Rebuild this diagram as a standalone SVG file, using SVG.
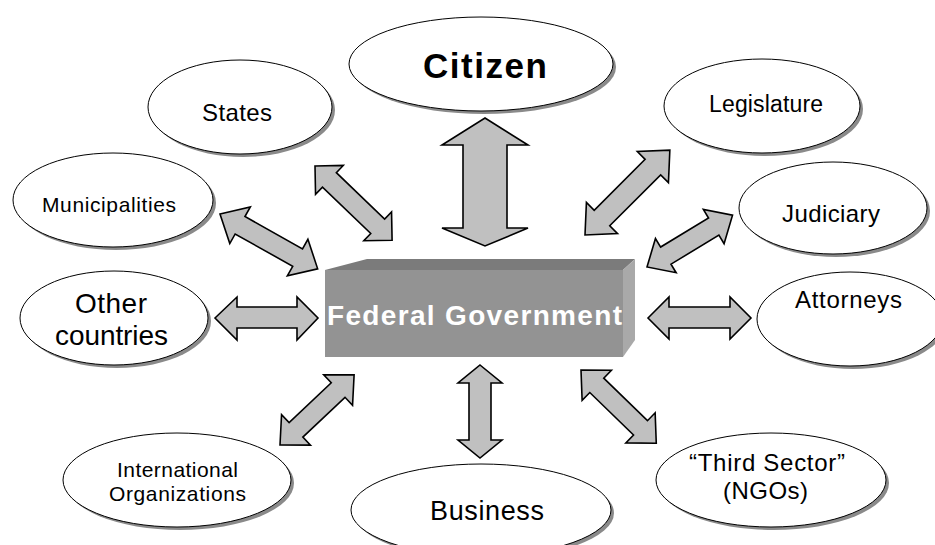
<svg xmlns="http://www.w3.org/2000/svg" width="935" height="545" viewBox="0 0 935 545">
<style>
.arrow{fill:#c0c0c0;stroke:#000;stroke-width:1.6;stroke-linejoin:miter}
.shadow{fill:#8a8a8a}
.oval{fill:#fff;stroke:#000;stroke-width:1}
.lbl{font-family:"Liberation Sans",Arial,sans-serif;fill:#000;text-anchor:start}
.big{font-family:"Liberation Sans",Arial,sans-serif;font-weight:bold}
</style>
<rect width="935" height="545" fill="#fff"/>
<g id="connectors">
<path class="arrow" d="M485,118 L528,145 L507,145 L507,228 L528,228 L485,246 L442,228 L463,228 L463,145 L442,145 Z"/>
<path class="arrow" d="M480,365 L502,383 L491,383 L491,440 L502,440 L480,458 L458,440 L469,440 L469,383 L458,383 Z"/>
<path class="arrow" d="M215,318 L237,297 L237,307 L297,307 L297,297 L318,318 L297,340 L297,328 L237,328 L237,340 Z"/>
<path class="arrow" d="M648,318 L669,297 L669,307 L730,307 L730,297 L751,318 L730,339 L730,328 L669,328 L669,339 Z"/>
<path class="arrow" transform="translate(315,166) rotate(43.9)" d="M0,0 L20,-20 L20,-10 L87,-10 L87,-20 L107,0 L87,20 L87,10 L20,10 L20,20 Z"/>
<path class="arrow" transform="translate(220,214) rotate(29.3)" d="M0,0 L23,-21 L23,-10 L89,-10 L89,-21 L112,0 L89,21 L89,10 L23,10 L23,21 Z"/>
<path class="arrow" transform="translate(585,235) rotate(-45)" d="M0,0 L24,-22 L24,-11 L96,-11 L96,-22 L120,0 L96,22 L96,11 L24,11 L24,22 Z"/>
<path class="arrow" transform="translate(647,267) rotate(-31.2)" d="M0,0 L22,-20 L22,-10 L78,-10 L78,-20 L100,0 L78,20 L78,10 L22,10 L22,20 Z"/>
<path class="arrow" transform="translate(280,445) rotate(-43.4)" d="M0,0 L22,-21 L22,-10 L80,-10 L80,-21 L102,0 L80,21 L80,10 L22,10 L22,21 Z"/>
<path class="arrow" transform="translate(581,370) rotate(44.2)" d="M0,0 L22,-21 L22,-10 L83,-10 L83,-21 L105,0 L83,21 L83,10 L22,10 L22,21 Z"/>
</g>
<g id="federal">
<polygon points="325,270 367,259 635,259 623,270" fill="#7b7b7b"/>
<polygon points="623,270 635,259 635,340 623,357" fill="#a9a9a9"/>
<rect x="325" y="270" width="298" height="87" fill="#939393"/>
<text class="big" x="327" y="325" font-size="28" fill="#fff" textLength="295" lengthAdjust="spacing">Federal Government</text>
</g>
<g id="citizen">
<ellipse class="shadow" cx="484" cy="67" rx="132" ry="47"/>
<ellipse class="oval" cx="481" cy="64" rx="132" ry="47"/>
<text class="big" x="423" y="78" font-size="35" fill="#000" textLength="124" lengthAdjust="spacing">Citizen</text>
</g>
<g id="states">
<ellipse class="shadow" cx="243" cy="110" rx="92" ry="47"/>
<ellipse class="oval" cx="240" cy="107" rx="92" ry="47"/>
<text class="lbl" x="202" y="121" font-size="24" textLength="70" lengthAdjust="spacing">States</text>
</g>
<g id="municipalities">
<ellipse class="shadow" cx="116" cy="203" rx="100" ry="47"/>
<ellipse class="oval" cx="113" cy="200" rx="100" ry="47"/>
<text class="lbl" x="42" y="212" font-size="21" textLength="134" lengthAdjust="spacing">Municipalities</text>
</g>
<g id="other-countries">
<ellipse class="shadow" cx="117" cy="321" rx="94" ry="47"/>
<ellipse class="oval" cx="114" cy="318" rx="94" ry="47"/>
<text class="lbl" x="75" y="313" font-size="28" textLength="72" lengthAdjust="spacing">Other</text>
<text class="lbl" x="55" y="345" font-size="28" textLength="113" lengthAdjust="spacing">countries</text>
</g>
<g id="international">
<ellipse class="shadow" cx="180" cy="483" rx="114" ry="47"/>
<ellipse class="oval" cx="177" cy="480" rx="114" ry="47"/>
<text class="lbl" x="117" y="477" font-size="21" textLength="121" lengthAdjust="spacing">International</text>
<text class="lbl" x="109" y="501" font-size="21" textLength="137" lengthAdjust="spacing">Organizations</text>
</g>
<g id="business">
<ellipse class="shadow" cx="484" cy="513" rx="130" ry="46"/>
<ellipse class="oval" cx="481" cy="510" rx="130" ry="46"/>
<text class="lbl" x="430" y="520" font-size="27" textLength="114" lengthAdjust="spacing">Business</text>
</g>
<g id="third-sector">
<ellipse class="shadow" cx="774" cy="483" rx="115" ry="47"/>
<ellipse class="oval" cx="771" cy="480" rx="115" ry="47"/>
<text class="lbl" x="689" y="471" font-size="24" textLength="156" lengthAdjust="spacing">“Third Sector”</text>
<text class="lbl" x="723" y="499" font-size="24" textLength="85" lengthAdjust="spacing">(NGOs)</text>
</g>
<g id="attorneys">
<ellipse class="shadow" cx="853" cy="322" rx="93" ry="47"/>
<ellipse class="oval" cx="850" cy="319" rx="93" ry="47"/>
<text class="lbl" x="795" y="308" font-size="24" textLength="107" lengthAdjust="spacing">Attorneys</text>
</g>
<g id="judiciary">
<ellipse class="shadow" cx="836" cy="211" rx="94" ry="46"/>
<ellipse class="oval" cx="833" cy="208" rx="94" ry="46"/>
<text class="lbl" x="782" y="222" font-size="24" textLength="98" lengthAdjust="spacing">Judiciary</text>
</g>
<g id="legislature">
<ellipse class="shadow" cx="765" cy="109" rx="98" ry="47"/>
<ellipse class="oval" cx="762" cy="106" rx="98" ry="47"/>
<text class="lbl" x="709" y="112" font-size="23" textLength="114" lengthAdjust="spacing">Legislature</text>
</g>
</svg>
